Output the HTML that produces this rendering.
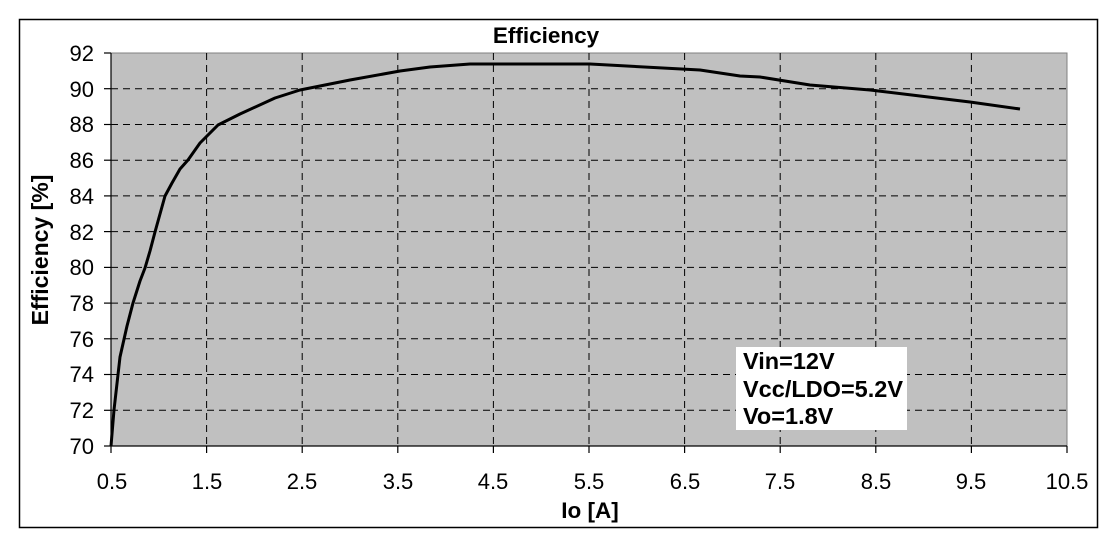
<!DOCTYPE html>
<html><head><style>
body{margin:0;background:#fff;}
svg{display:block;}
text{font-family:"Liberation Sans",Arial,sans-serif;fill:#000;}
</style></head><body>
<svg width="1116" height="550" viewBox="0 0 1116 550">
<rect x="19.5" y="19.5" width="1078" height="508" fill="#fff" stroke="#000" stroke-width="1.5"/>
<rect x="111" y="53" width="956" height="393" fill="#c0c0c0" stroke="#808080" stroke-width="1"/>
<g stroke="#000" stroke-width="1" stroke-dasharray="7,5">
<line x1="111" y1="88.7" x2="1067" y2="88.7"/><line x1="111" y1="124.5" x2="1067" y2="124.5"/>
<line x1="111" y1="160.2" x2="1067" y2="160.2"/><line x1="111" y1="195.9" x2="1067" y2="195.9"/>
<line x1="111" y1="231.6" x2="1067" y2="231.6"/><line x1="111" y1="267.4" x2="1067" y2="267.4"/>
<line x1="111" y1="303.1" x2="1067" y2="303.1"/><line x1="111" y1="338.8" x2="1067" y2="338.8"/>
<line x1="111" y1="374.5" x2="1067" y2="374.5"/><line x1="111" y1="410.3" x2="1067" y2="410.3"/>
<line x1="206.6" y1="53" x2="206.6" y2="446"/><line x1="302.2" y1="53" x2="302.2" y2="446"/>
<line x1="397.8" y1="53" x2="397.8" y2="446"/><line x1="493.4" y1="53" x2="493.4" y2="446"/>
<line x1="589" y1="53" x2="589" y2="446"/><line x1="684.6" y1="53" x2="684.6" y2="446"/>
<line x1="780.2" y1="53" x2="780.2" y2="446"/><line x1="875.8" y1="53" x2="875.8" y2="446"/>
<line x1="971.4" y1="53" x2="971.4" y2="446"/>
</g>
<g stroke="#000" stroke-width="1.2">
<line x1="111" y1="53" x2="111" y2="446"/><line x1="111" y1="446" x2="1067" y2="446"/>
<line x1="104" y1="53" x2="111" y2="53"/><line x1="104" y1="88.7" x2="111" y2="88.7"/><line x1="104" y1="124.5" x2="111" y2="124.5"/><line x1="104" y1="160.2" x2="111" y2="160.2"/><line x1="104" y1="195.9" x2="111" y2="195.9"/><line x1="104" y1="231.6" x2="111" y2="231.6"/><line x1="104" y1="267.4" x2="111" y2="267.4"/><line x1="104" y1="303.1" x2="111" y2="303.1"/><line x1="104" y1="338.8" x2="111" y2="338.8"/><line x1="104" y1="374.5" x2="111" y2="374.5"/><line x1="104" y1="410.3" x2="111" y2="410.3"/><line x1="104" y1="446" x2="111" y2="446"/>
<line x1="111" y1="446" x2="111" y2="453"/><line x1="206.6" y1="446" x2="206.6" y2="453"/><line x1="302.2" y1="446" x2="302.2" y2="453"/><line x1="397.8" y1="446" x2="397.8" y2="453"/><line x1="493.4" y1="446" x2="493.4" y2="453"/><line x1="589" y1="446" x2="589" y2="453"/><line x1="684.6" y1="446" x2="684.6" y2="453"/><line x1="780.2" y1="446" x2="780.2" y2="453"/><line x1="875.8" y1="446" x2="875.8" y2="453"/><line x1="971.4" y1="446" x2="971.4" y2="453"/><line x1="1067" y1="446" x2="1067" y2="453"/>
</g>
<polyline fill="none" stroke="#000" stroke-width="3" stroke-linejoin="round" points="111,446 114,410 120,357 127,326 133,303 140,281 145,268 150,251 155,232 160,214 165,196 172,183 180,169 188,160 200,143 218,125 240,114 275,98 300,90 350,80 400,71 430,67 470,64 590,64 700,70 740,76 760,77 810,85 870,90 920,96 970,102 1020,109"/>
<rect x="736" y="347" width="171" height="83" fill="#fff"/>
<g font-size="23.5" font-weight="bold">
<text x="743" y="369">Vin=12V</text>
<text x="743" y="397">Vcc/LDO=5.2V</text>
<text x="743" y="424">Vo=1.8V</text>
</g>
<text x="546" y="43" font-size="22.5" font-weight="bold" text-anchor="middle">Efficiency</text>
<g font-size="22" text-anchor="end">
<text x="94" y="61">92</text><text x="94" y="97">90</text><text x="94" y="132">88</text><text x="94" y="168">86</text><text x="94" y="204">84</text><text x="94" y="240">82</text><text x="94" y="275">80</text><text x="94" y="311">78</text><text x="94" y="347">76</text><text x="94" y="382">74</text><text x="94" y="418">72</text><text x="94" y="454">70</text>
</g>
<g font-size="22" text-anchor="middle">
<text x="112" y="489">0.5</text><text x="207" y="489">1.5</text><text x="302" y="489">2.5</text><text x="398" y="489">3.5</text><text x="493" y="489">4.5</text><text x="589" y="489">5.5</text><text x="685" y="489">6.5</text><text x="780" y="489">7.5</text><text x="876" y="489">8.5</text><text x="971" y="489">9.5</text><text x="1067" y="489">10.5</text>
</g>
<text x="590" y="518" font-size="22.5" font-weight="bold" text-anchor="middle">Io [A]</text>
<text transform="translate(48,250) rotate(-90)" font-size="23" font-weight="bold" text-anchor="middle">Efficiency [%]</text>
</svg>
</body></html>
